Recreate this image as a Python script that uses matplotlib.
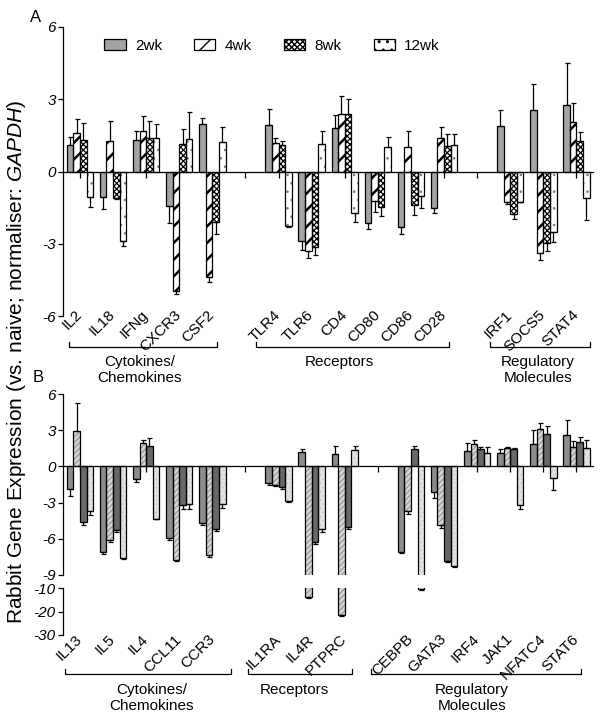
import numpy as np
import matplotlib.pyplot as plt
from matplotlib.patches import Patch

plt.rcParams['font.family'] = ['Liberation Sans', 'DejaVu Sans']
plt.rcParams['mathtext.fontset'] = 'custom'
plt.rcParams['mathtext.rm'] = 'Liberation Sans'
plt.rcParams['mathtext.it'] = 'Liberation Sans:italic'

timepoints = ['2wk', '4wk', '8wk', '12wk']

# ---- panel A data ----
a_groups = ['Cytokines/\nChemokines', 'Receptors', 'Regulatory\nMolecules']
a_genes = [['IL2', 'IL18', 'IFNg', 'CXCR3', 'CSF2'],
           ['TLR4', 'TLR6', 'CD4', 'CD80', 'CD86', 'CD28'],
           ['IRF1', 'SOCS5', 'STAT4']]
a_2wk = [1.08, -1.07, 1.32, -1.44, 1.99, 1.93, -2.88, 1.81, -2.15, -2.29, -1.51, 1.90, 2.57, 2.75]
a_2wk_err = [0.35, 0.49, 0.36, 0.71, 0.25, 0.68, 0.37, 0.55, 0.24, 0.32, 0.23, 0.64, 1.08, 1.75]
a_4wk = [1.61, 1.26, 1.68, -4.95, -4.40, 1.19, -3.29, 2.40, -1.24, 1.03, 1.40, -1.25, -3.39, 2.05]
a_4wk_err = [0.57, 0.82, 0.63, 0.12, 0.20, 0.21, 0.31, 0.74, 0.43, 0.65, 0.46, 0.12, 0.29, 0.81]
a_8wk = [1.32, -1.10, 1.39, 1.15, -2.11, 1.11, -3.15, 2.40, -1.49, -1.40, 1.07, -1.76, -2.97, 1.25]
a_8wk_err = [0.69, 0.06, 0.72, 0.61, 0.49, 0.17, 0.32, 0.61, 0.36, 0.40, 0.50, 0.20, 0.32, 0.37]
a_12wk = [-1.04, -2.88, 1.39, 1.36, 1.22, -2.25, 1.15, -1.72, 1.03, -1.01, 1.11, -1.28, -2.50, -1.11]
a_12wk_err = [0.42, 0.23, 0.57, 1.11, 0.63, 0.07, 0.55, 0.36, 0.40, 0.49, 0.46, 0.0, 0.42, 0.90]

# ---- panel B data ----
b_groups = ['Cytokines/\nChemokines', 'Receptors', 'Regulatory\nMolecules']
b_genes = [['IL13', 'IL5', 'IL4', 'CCL11', 'CCR3'],
           ['IL1RA', 'IL4R', 'PTPRC'],
           ['CEBPB', 'GATA3', 'IRF4', 'JAK1', 'NFATC4', 'STAT6']]
b_2wk = [-1.89, -7.11, -1.06, -5.95, -4.69, -1.40, 1.22, 1.00, -7.11, -2.11, 1.28, 1.08, 1.83, 2.58]
b_2wk_err = [0.56, 0.14, 0.25, 0.13, 0.20, 0.10, 0.22, 0.69, 0.10, 0.50, 0.64, 0.36, 1.20, 1.23]
b_4wk = [2.94, -6.14, 1.92, -7.75, -7.31, -1.50, -14.0, -21.5, -3.70, -4.89, 1.83, 1.50, 3.08, 1.61]
b_4wk_err = [2.31, 0.14, 0.27, 0.10, 0.22, 0.10, 0.30, 0.30, 0.27, 0.20, 0.39, 0.14, 0.50, 0.47]
b_8wk = [-4.61, -5.25, 1.72, -3.17, -5.17, -1.70, -6.28, -5.03, 1.42, -7.81, 1.44, 1.42, 2.67, 2.03]
b_8wk_err = [0.23, 0.20, 0.61, 0.33, 0.19, 0.20, 0.12, 0.17, 0.27, 0.14, 0.14, 0.14, 0.69, 0.41]
b_12wk = [-3.72, -7.58, -4.33, -3.14, -3.08, -2.90, -5.22, 1.36, -10.4, -8.28, 1.08, -3.22, -1.00, 1.56]
b_12wk_err = [0.28, 0.07, 0.07, 0.36, 0.36, 0.07, 0.18, 0.33, 0.30, 0.08, 0.56, 0.34, 0.97, 0.66]

# bar styles: face, hatch, hatch colour, hatch width
style_a = [dict(fc='#a3a3a3'),
           dict(fc='white', hatch='//', hc='black', hlw=1.8),
           dict(fc='white', hatch='xxxxxx', hc='black', hlw=0.9),
           dict(fc='white', hatch='..', hc='#777777', hlw=0.6)]
style_b = [dict(fc='#8c8c8c'),
           dict(fc='#d4d4d4', hatch='//////', hc='#808080', hlw=0.6),
           dict(fc='#686868'),
           dict(fc='#e2e2e2', hatch='....', hc='#c4c4c4', hlw=0.5)]
offsets = [-0.3, -0.1, 0.1, 0.3]
W = 0.2


def slot_positions(groups):
    pos = []
    i = 0
    for g in groups:
        pos += list(range(i, i + len(g)))
        i += len(g) + 1
    return np.array(pos, dtype=float)


def bar_series(ax, x, vals, errs, st):
    with plt.rc_context({'hatch.linewidth': st.get('hlw', 1.0)}):
        bars = ax.bar(x, vals, width=W, color=st['fc'], edgecolor=st.get('hc', st['fc']),
                      hatch=st.get('hatch'), linewidth=0, zorder=2)
        for p in bars:
            if hasattr(p, 'set_hatch_linewidth'):
                p.set_hatch_linewidth(st.get('hlw', 1.0))
    ax.bar(x, vals, width=W, fill=False, edgecolor='black', linewidth=0.9, zorder=3)
    lo = [e if v < 0 else 0 for v, e in zip(vals, errs)]
    hi = [e if v >= 0 else 0 for v, e in zip(vals, errs)]
    ax.errorbar(x, vals, yerr=[lo, hi], fmt='none', ecolor='black', elinewidth=0.9,
                capsize=1.8, capthick=0.9, zorder=4)


def setup_axis(ax, ylim, yticks, zero_axis=True):
    ax.set_xlim(-0.5, 15.5)
    ax.set_ylim(*ylim)
    ax.spines['top'].set_visible(False)
    ax.spines['right'].set_visible(False)
    ax.spines['left'].set_linewidth(0.9)
    if zero_axis:
        ax.spines['bottom'].set_position(('data', 0))
        ax.spines['bottom'].set_linewidth(0.9)
        ax.set_xticks(range(16))
        ax.set_xticklabels([])
        ax.tick_params(axis='x', direction='out', length=4, width=0.9)
    else:
        ax.spines['bottom'].set_visible(False)
        ax.set_xticks([])
    ax.set_yticks(yticks)
    ax.set_yticklabels([str(t) for t in yticks], fontstyle='italic')
    ax.tick_params(axis='y', length=3.5, width=0.9, pad=2, labelsize=11)


fig = plt.figure(figsize=(6, 7.2), dpi=100)
PX, PY = 600.0, 720.0


def fx(px):
    return px / PX


def fy(py):
    return 1 - py / PY


left, width = fx(63.4), 529.6 / PX
ax_a = fig.add_axes([left, fy(316), width, 289 / PY])
ax_bu = fig.add_axes([left, fy(575), width, 181 / PY])
ax_bl = fig.add_axes([left, fy(635), width, 47 / PY])

# panel A
xa = slot_positions(a_genes)
a_series = [(a_2wk, a_2wk_err), (a_4wk, a_4wk_err), (a_8wk, a_8wk_err), (a_12wk, a_12wk_err)]
for (vals, errs), off, st in zip(a_series, offsets, style_a):
    bar_series(ax_a, xa + off, vals, errs, st)
setup_axis(ax_a, (-6, 6), [6, 3, 0, -3, -6])

# panel B (broken axis)
xb = slot_positions(b_genes)
b_series = [(b_2wk, b_2wk_err), (b_4wk, b_4wk_err), (b_8wk, b_8wk_err), (b_12wk, b_12wk_err)]
for ax in (ax_bu, ax_bl):
    for (vals, errs), off, st in zip(b_series, offsets, style_b):
        bar_series(ax, xb + off, vals, errs, st)
setup_axis(ax_bu, (-9, 6), [6, 3, 0, -3, -6, -9])
setup_axis(ax_bl, (-30, -10), [-10, -20, -30], zero_axis=False)

# rotated gene labels
names_a = [g for grp in a_genes for g in grp]
for xi, name in zip(xa, names_a):
    ax_a.text(xi, 0.012, name, transform=ax_a.get_xaxis_transform(), rotation=45,
              rotation_mode='anchor', ha='right', va='center', fontsize=11)
names_b = [g for grp in b_genes for g in grp]
for xi, name in zip(xb, names_b):
    ax_bl.text(xi, -0.04, name, transform=ax_bl.get_xaxis_transform(), rotation=45,
               rotation_mode='anchor', ha='right', va='center', fontsize=11)

# group brackets (pixel layout) and labels
brackets_a = [(69, 217), (256, 449), (490, 590)]
labels_a = [(140, 370), (339, 362), (538, 370)]
brackets_b = [(65, 231), (248, 352), (371, 581)]
labels_b = [(152, 698), (294, 690), (472, 698)]
for brk, lab, y_br, names in [(brackets_a, labels_a, 347, a_groups), (brackets_b, labels_b, 674, b_groups)]:
    for (x0, x1), (lx, ly), name in zip(brk, lab, names):
        fig.add_artist(plt.Line2D([fx(x0), fx(x0), fx(x1), fx(x1)],
                                  [fy(y_br - 5), fy(y_br), fy(y_br), fy(y_br - 5)],
                                  color='black', lw=0.9))
        fig.text(fx(lx), fy(ly), name, ha='center', va='center', fontsize=11, linespacing=1.1)

fig.text(fx(36), fy(17), 'A', ha='center', va='center', fontsize=12)
fig.text(fx(38), fy(377), 'B', ha='center', va='center', fontsize=12)
fig.text(fx(17), fy(362), 'Rabbit Gene Expression (vs. naive; normaliser: $\\mathit{GAPDH}$)',
         rotation=90, ha='center', va='center', fontsize=15)

handles = [Patch(facecolor=st['fc'], edgecolor='black', hatch=st.get('hatch'), linewidth=0.9)
           for st in style_a]
fig.legend(handles, timepoints, loc='center', bbox_to_anchor=(fx(272), fy(46)), ncol=4,
           frameon=False, fontsize=11, handlelength=1.4, handleheight=0.7,
           handletextpad=0.6, columnspacing=2.1)

fig.savefig('out.png', dpi=100)
